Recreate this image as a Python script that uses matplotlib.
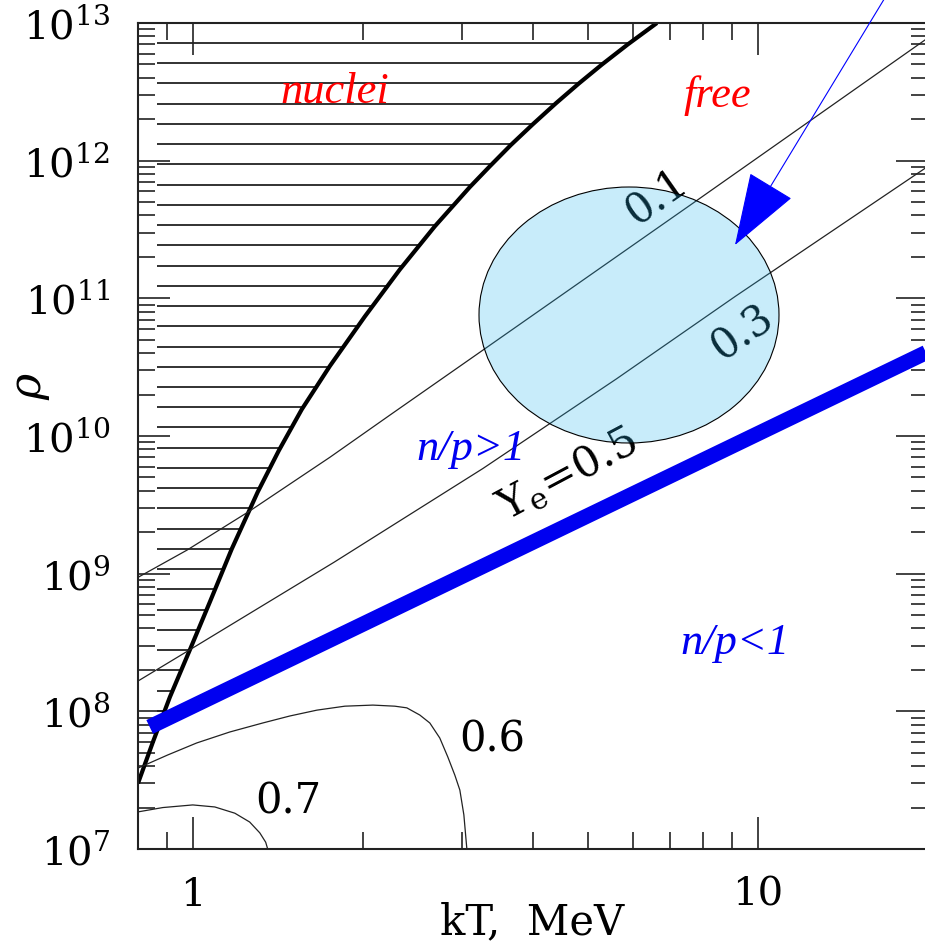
import numpy as np
import matplotlib
matplotlib.use("Agg")
import matplotlib.pyplot as plt
from matplotlib.patches import Ellipse, Polygon
from matplotlib.collections import LineCollection
from matplotlib.ticker import FixedLocator, LogLocator, NullFormatter

# ---------------- data ----------------
# boundary between nuclei and free nucleons (thick black curve)
bound_T = [0.80, 0.850, 0.911, 0.988, 1.072, 1.172, 1.303, 1.420, 1.559, 1.748, 2.016,
           2.325, 2.682, 3.093, 3.356, 3.655, 3.998, 4.391, 4.823, 5.296, 5.888, 6.627]
bound_rho = [3.0e7, 5.98e7, 1.27e8, 2.79e8, 6.22e8, 1.51e9, 3.92e9, 7.84e9, 1.56e10, 3.22e10,
             7.38e10, 1.62e11, 3.34e11, 6.44e11, 9.12e11, 1.30e12, 1.84e12, 2.61e12, 3.64e12,
             4.99e12, 7.0e12, 1.0e13]

# Ye = 0.1 contour
ye01_T = [0.80, 0.976, 1.259, 1.748, 2.239, 3.26, 7.67, 20.0]
ye01_rho = [9.4e8, 1.48e9, 2.84e9, 7.0e9, 1.43e10, 4.2e10, 4.9e11, 7.8e12]
# Ye = 0.3 contour
ye03_T = [0.80, 0.988, 1.778, 3.26, 5.62, 9.11, 20.0]
ye03_rho = [1.66e8, 2.8e8, 1.21e9, 5.8e9, 2.6e10, 1.03e11, 9.1e11]
# Ye = 0.5 (thick blue)
ye05_T = [0.839, 20.0]
ye05_rho = [7.7e7, 4.1e10]
# Ye = 0.6 contour
ye06_T = [0.80, 0.903, 1.016, 1.163, 1.330, 1.485, 1.658, 1.858, 2.083, 2.278, 2.392,
          2.522, 2.627, 2.736, 2.827, 2.909, 2.969, 3.018, 3.055]
ye06_rho = [3.87e7, 4.82e7, 5.89e7, 7.08e7, 8.23e7, 9.25e7, 1.02e8, 1.09e8, 1.11e8, 1.09e8,
            1.06e8, 9.40e7, 8.23e7, 6.40e7, 4.66e7, 3.44e7, 2.68e7, 1.77e7, 1.0e7]
# Ye = 0.7 contour
ye07_T = [0.80, 0.885, 1.0, 1.094, 1.187, 1.261, 1.314, 1.346, 1.357]
ye07_rho = [1.86e7, 2.00e7, 2.09e7, 2.02e7, 1.82e7, 1.57e7, 1.31e7, 1.12e7, 1.0e7]

xtick_vals = [1, 10]
xtick_labels = ["1", "10"]
ytick_exps = [7, 8, 9, 10, 11, 12, 13]

# ---------------- style ----------------
plt.rcParams['font.family'] = ['DejaVu Serif']
plt.rcParams['mathtext.fontset'] = 'dejavuserif'

W, H = 925, 950
fig = plt.figure(figsize=(W / 100, H / 100), dpi=100)
ax = fig.add_axes([138 / W, 101 / H, 790 / W, 826 / H])
ax.set_xscale('log')
ax.set_yscale('log')
ax.set_xlim(0.8, 20)
ax.set_ylim(1e7, 1e13)

for s in ax.spines.values():
    s.set_linewidth(1.5)
    s.set_color('#222222')

ax.xaxis.set_major_locator(FixedLocator(xtick_vals))
ax.set_xticklabels(xtick_labels)
ax.xaxis.set_minor_locator(LogLocator(base=10, subs=np.arange(2, 10)))
ax.xaxis.set_minor_formatter(NullFormatter())
yt = [10.0 ** e for e in ytick_exps]
ax.yaxis.set_major_locator(FixedLocator(yt))
ax.set_yticklabels([r'$10^{%d}$' % e for e in ytick_exps])
ax.yaxis.set_minor_locator(LogLocator(base=10, subs=np.arange(2, 10)))
ax.yaxis.set_minor_formatter(NullFormatter())
ax.tick_params(which='both', direction='in', top=True, right=True, color='#222222')
ax.tick_params(which='major', length=23, width=1.2, labelsize=29, pad=20)
ax.tick_params(which='minor', length=12, width=1.2)


def px(x, y):
    """pixel position in the picture -> axes fraction"""
    return ((x - 138) / 790, (849 - y) / 826)


ax.set_xlabel('kT,  MeV', fontsize=30)
ax.xaxis.set_label_coords(*px(532, 922))
ax.xaxis.label.set_verticalalignment('center')
fig.text(30 / W, 1 - 386 / H, r'$\rho$', fontsize=32, rotation=90, ha='center', va='center')

# ---------------- nuclei region hatching ----------------
region = Polygon(np.column_stack([bound_T + [0.5, 0.5], bound_rho + [1e13, 1e6]]),
                 closed=True, transform=ax.transData, facecolor='none', edgecolor='none')
ax.add_patch(region)
hatch_logrho = np.arange(12.855, 7.3, -0.147)
segs = [[(0.864, 10 ** v), (30.0, 10 ** v)] for v in hatch_logrho]
lc = LineCollection(segs, colors='#222222', linewidths=1.3)
ax.add_collection(lc)
lc.set_clip_path(region)

ax.plot(bound_T, bound_rho, color='black', lw=3.0, solid_capstyle='butt', solid_joinstyle='round')

# thin contours
for T, r in [(ye01_T, ye01_rho), (ye03_T, ye03_rho), (ye06_T, ye06_rho), (ye07_T, ye07_rho)]:
    ax.plot(T, r, color='#222222', lw=0.9)

ax.plot(ye05_T, ye05_rho, color='#0000f0', lw=11, solid_capstyle='butt')

# contour labels
ax.text(*px(656, 197), '0.1', fontsize=30, rotation=35, ha='center', va='center',
        transform=ax.transAxes, rotation_mode='anchor')
ax.text(*px(742, 333), '0.3', fontsize=30, rotation=35, ha='center', va='center',
        transform=ax.transAxes, rotation_mode='anchor')
ax.text(*px(567, 474), r'Y$_{\rm e}$=0.5', fontsize=31, rotation=28, ha='center', va='center',
        transform=ax.transAxes, rotation_mode='anchor')
ax.text(*px(492, 739), '0.6', fontsize=30, ha='center', va='center', transform=ax.transAxes)
ax.text(*px(288, 801), '0.7', fontsize=30, ha='center', va='center', transform=ax.transAxes)

# region labels
lab = dict(fontsize=32, style='italic', family='Liberation Serif', ha='center', va='baseline',
           transform=ax.transAxes)
ax.text(*px(335, 103), 'nuclei', color='#ff0000', **lab)
ax.text(*px(717, 107), 'free', color='#ff0000', **lab)
ax.text(*px(471, 460), 'n/p>1', color='#0000f0', **lab)
ax.text(*px(735, 654), 'n/p<1', color='#0000f0', **lab)

# highlighted ellipse
ell = Ellipse(px(629, 315), 300 / 790, 256 / 826, transform=ax.transAxes,
              facecolor=(36 / 255, 180 / 255, 236 / 255, 0.25), edgecolor='black', lw=0.8, zorder=5)
ax.add_patch(ell)

# arrow
ax.annotate('', xy=px(735, 245), xycoords='axes fraction',
            xytext=px(920, -60), textcoords='axes fraction', annotation_clip=False,
            arrowprops=dict(arrowstyle='-|>,head_length=48,head_width=16.5', mutation_scale=1,
                            color='#0000ff', lw=0.8, shrinkA=0, shrinkB=0), zorder=6)

fig.savefig('out.png', dpi=100)
